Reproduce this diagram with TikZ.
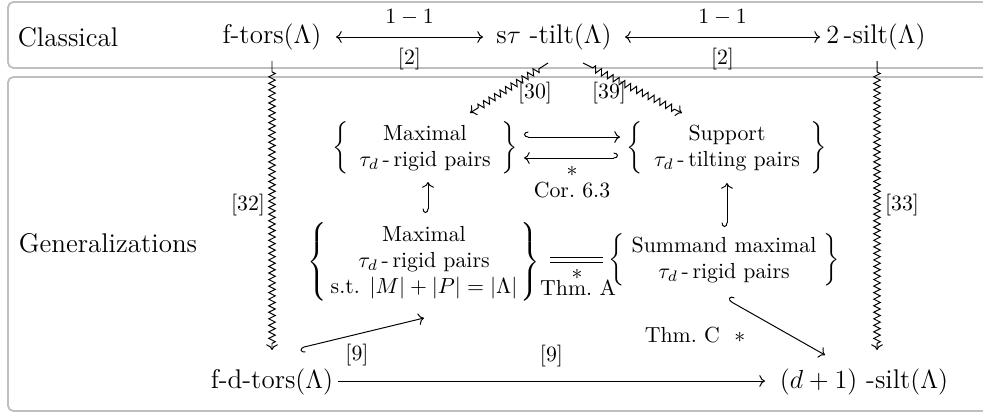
\documentclass[tikz,border=0pt]{standalone}
\usepackage{amsmath}
\usetikzlibrary{arrows.meta,decorations.pathmorphing,calc}
\begin{document}
\begin{tikzpicture}[x=0.4587pt,y=-0.4587pt]
\tikzset{
 big/.style={font=\fontsize{12.4}{15}\selectfont, inner sep=0pt},
 lab/.style={font=\normalsize, inner sep=1pt},
 brc/.style={font=\normalsize, inner sep=0pt},
 panel/.style={draw=black!25, line width=0.85pt, rounded corners=2.5pt},
 arr/.style={-{To[length=2.6pt,width=5.4pt]}, line width=0.45pt},
 dblarr/.style={{To[length=2.6pt,width=5.4pt]}-{To[length=2.6pt,width=5.4pt]}, line width=0.45pt},
 hkl/.style={{Hooks[right,length=2pt,width=5pt]}-{To[length=2.6pt,width=5.4pt]}, line width=0.45pt},
 hkr/.style={{Hooks[left,length=2pt,width=5pt]}-{To[length=2.6pt,width=5.4pt]}, line width=0.45pt},
 sq/.style={-{To[length=2.6pt,width=5.4pt]}, line width=0.45pt, decorate,
   decoration={zigzag, amplitude=1.5pt, segment length=3pt, pre length=5pt, post length=3pt}},
}
\useasboundingbox (0,0) rectangle (983,415);
\draw[panel] (8,2) rectangle (1010,68);
\draw[panel] (8,77) rectangle (1010,411);

% top row
\node[big] (cl) at (68,37) {Classical};
\node[big] (ft) at (272,37) {f-tors$(\Lambda)$};
\node[big] (st) at (554,37) {s$\tau$ -tilt$(\Lambda)$};
\node[big] (ts) at (876,37) {$2$\,-silt$(\Lambda)$};

% generalizations
\node[big] (gen) at (108,243) {Generalizations};
\node[big] (fd) at (272,382) {f-d-tors$(\Lambda)$};
\node[big] (ds) at (864,382) {$(d+1)$ -silt$(\Lambda)$};

\node[brc] (A) at (425,148) {$\left\{\begin{array}{c}\text{Maximal}\\ \text{$\tau_d$\,-\,rigid pairs}\end{array}\right\}$};
\node[brc] (B) at (727,148) {$\left\{\begin{array}{c}\text{Support}\\ \text{$\tau_d$\,-\,tilting pairs}\end{array}\right\}$};
\node[brc] (C) at (424,262) {$\left\{\!\!\begin{array}{c}\text{Maximal}\\ \text{$\tau_d$\,-\,rigid pairs}\\ \text{s.t. $|M|+|P|=|\Lambda|$}\end{array}\!\!\right\}$};
\node[brc] (D) at (724,260) {$\left\{\!\begin{array}{c}\text{Summand maximal}\\ \text{$\tau_d$\,-\,rigid pairs}\end{array}\!\right\}$};

% top arrows
\draw[dblarr] ($(ft)+(64,0)$) -- node[lab,above=4pt]{$1-1$} node[lab,below=4pt]{[2]} ($(st)+(-71,0)$);
\draw[dblarr] ($(st)+(71,0)$) -- node[lab,above=4pt]{$1-1$} node[lab,below=4pt]{[2]} ($(ts)+(-56,0)$);

% squiggles
\draw[sq] ($(ft)+(0,24)$) -- ($(fd)+(0,-32)$);
\draw[sq] ($(ts)+(1,24)$) -- ($(ds)+(13,-32)$);
\draw[sq] ($(st)+(-6,26)$) -- ($(A)+(45,-35)$);
\draw[sq] ($(st)+(29,26)$) -- ($(B)+(-45,-35)$);
\node[lab] (l32) at (248,205) {[32]};
\node[lab] (l33) at (902,205) {[33]};
\node[lab] (l30) at (535,93) {[30]};
\node[lab] (l39) at (609,93) {[39]};

% A <-> B
\draw[hkl] ($(A)+(99,-11)$) -- ($(B)+(-107,-11)$);
\draw[hkr] ($(B)+(-109,10)$) -- ($(A)+(99,10)$);
\node[lab] (s1) at (572,171) {$*$};
\node[lab] (cor) at (572,190) {Cor.~6.3};

% vertical hooks
\draw[hkl] ($(C)+(4,-49)$) -- ($(A)+(3,34)$);
\draw[hkl] ($(D)+(3,-33)$) -- ($(B)+(0,35)$);

% C = D
\draw[double, double distance=1.6pt, line width=0.45pt] ($(C)+(126,-2)$) -- ($(D)+(-121,0)$);
\node[lab] (s2) at (577,274) {$*$};
\node[lab] (tha) at (578,288) {Thm.~A};

% bottom
\draw[arr] ($(fd)+(66,-1)$) -- node[lab,above=5pt]{[9]} ($(ds)+(-99,-1)$);
\draw[hkr] ($(fd)+(28,-34)$) -- ($(C)+(0,56)$);
\node[lab] (l9) at (357,355) {[9]};
\draw[hkl] ($(D)+(4,40)$) -- ($(ds)+(-39,-27)$);
\node[lab] (thc) at (695,335) {Thm.~C~~$*$};
\end{tikzpicture}
\end{document}
